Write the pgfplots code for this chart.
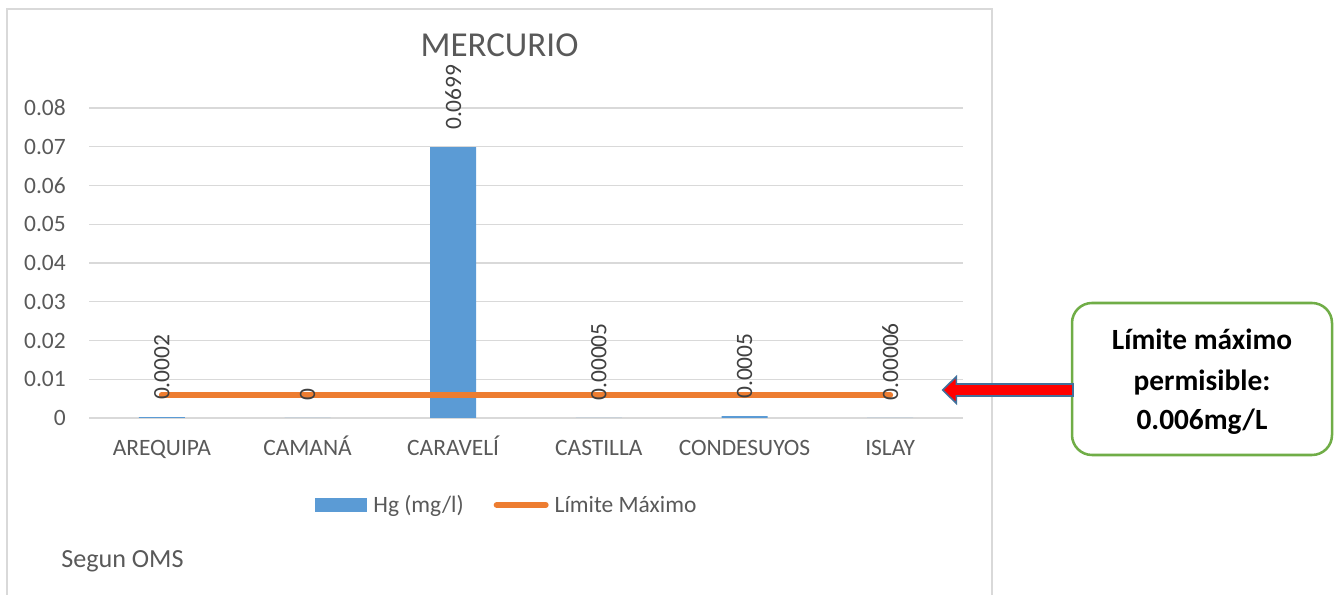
\documentclass[border=0pt]{standalone}
\usepackage{pgfplots}
\pgfplotsset{compat=1.18}
\usepackage{fontspec}
\setmainfont{Carlito}

\definecolor{hgblue}{HTML}{5B9BD5}
\definecolor{limorange}{HTML}{ED7D31}
\definecolor{gridgray}{HTML}{D9D9D9}
\definecolor{ticktext}{HTML}{595959}
\definecolor{labeltext}{HTML}{404040}
\definecolor{boxgreen}{HTML}{70AD47}
\definecolor{arrowblue}{HTML}{41719C}

\begin{document}
\begin{tikzpicture}
\useasboundingbox (0,0) rectangle (1002.75pt,446.25pt);

% chart frame (bottom runs off the page)
\draw[gridgray, line width=1.5pt] (5.25pt,0) -- (5.25pt,439.5pt) -- (744pt,439.5pt) -- (744pt,0);

\begin{axis}[
    at={(66.75pt,132.75pt)}, anchor=south west,
    scale only axis, width=655.5pt, height=232.5pt,
    xmin=-0.5, xmax=5.5, ymin=0, ymax=0.08,
    scaled y ticks=false,
    axis line style={draw=none},
    ymajorgrids, grid style={gridgray, line width=1pt},
    major tick length=0pt,
    ytick={0,0.01,0.02,0.03,0.04,0.05,0.06,0.07,0.08},
    yticklabels={0,0.01,0.02,0.03,0.04,0.05,0.06,0.07,0.08},
    xtick={0,1,2,3,4,5},
    xticklabels={AREQUIPA,CAMANÁ,CARAVELÍ,CASTILLA,CONDESUYOS,ISLAY},
    tick label style={font=\fontsize{17.6}{20}\selectfont, text=ticktext},
    yticklabel style={anchor=east, inner sep=0pt, xshift=-17.25pt},
    xticklabel style={anchor=base, inner sep=0pt, yshift=-28.5pt},
    title={MERCURIO},
    title style={at={(0.4697,1.1387)}, anchor=base, inner sep=0pt,
        font=\fontsize{26.25}{30}\selectfont, text=ticktext},
    legend columns=2,
    legend style={at={(0.477,-0.2806)}, anchor=center, draw=none, fill=none,
        inner sep=0pt, font=\fontsize{17.6}{20}\selectfont, text=ticktext,
        nodes={inner sep=0pt},
        /tikz/every odd column/.append style={column sep=4.5pt},
        /tikz/every even column/.append style={column sep=22.5pt}},
]

% Hg (mg/l)
\addplot[ybar, bar width=34.5pt, fill=hgblue, draw=none,
    legend image code/.code={\fill[hgblue] (0pt,-5.25pt) rectangle (39pt,5.25pt);}]
    coordinates {(0,0.0002) (1,0) (2,0.0699) (3,0.00005) (4,0.0005) (5,0.00006)};
\addlegendentry{Hg (mg/l)}

% Limite maximo
\addplot[limorange, line width=4.5pt, line cap=round, mark=none,
    legend image code/.code={\draw[limorange, line width=4.5pt, line cap=round] (2.25pt,0) -- (39pt,0);}]
    coordinates {(0,0.006) (1,0.006) (2,0.006) (3,0.006) (4,0.006) (5,0.006)};
\addlegendentry{Límite Máximo}

% data labels on top
\addplot[draw=none, mark=none, forget plot,
    point meta=explicit symbolic, nodes near coords,
    nodes near coords style={rotate=90, anchor=west, inner ysep=0pt, inner xsep=12.75pt,
        font=\fontsize{17.6}{20}\selectfont, text=labeltext}]
    coordinates {(0,0.0002) [0.0002] (1,0) [0] (2,0.0699) [0.0699]
                 (3,0.00005) [0.00005] (4,0.0005) [0.0005] (5,0.00006) [0.00006]};
\end{axis}

\node[anchor=base west, inner sep=0pt, font=\fontsize{19.6}{22}\selectfont, text=ticktext]
    at (45.75pt,20.25pt) {Segun OMS};

% callout
\draw[boxgreen, line width=1.9pt, rounded corners=15pt, fill=white]
    (804pt,105pt) rectangle (999pt,219pt);
\begin{scope}[every node/.style={anchor=base, inner sep=0pt,
        font=\bfseries\fontsize{22}{26}\selectfont, text=black}]
\node at (901.5pt,183.75pt) {Límite máximo};
\node at (901.5pt,153pt) {permisible:};
\node at (901.5pt,123.75pt) {0.006mg/L};
\end{scope}
\filldraw[fill=red, draw=arrowblue, line width=1.2pt, line join=miter]
    (707pt,153.75pt) -- (717.25pt,163.75pt) -- (717.25pt,158.25pt) -- (804.75pt,158.25pt)
    -- (804.75pt,149.25pt) -- (717.25pt,149.25pt) -- (717.25pt,143.75pt) -- cycle;
\end{tikzpicture}
\end{document}
